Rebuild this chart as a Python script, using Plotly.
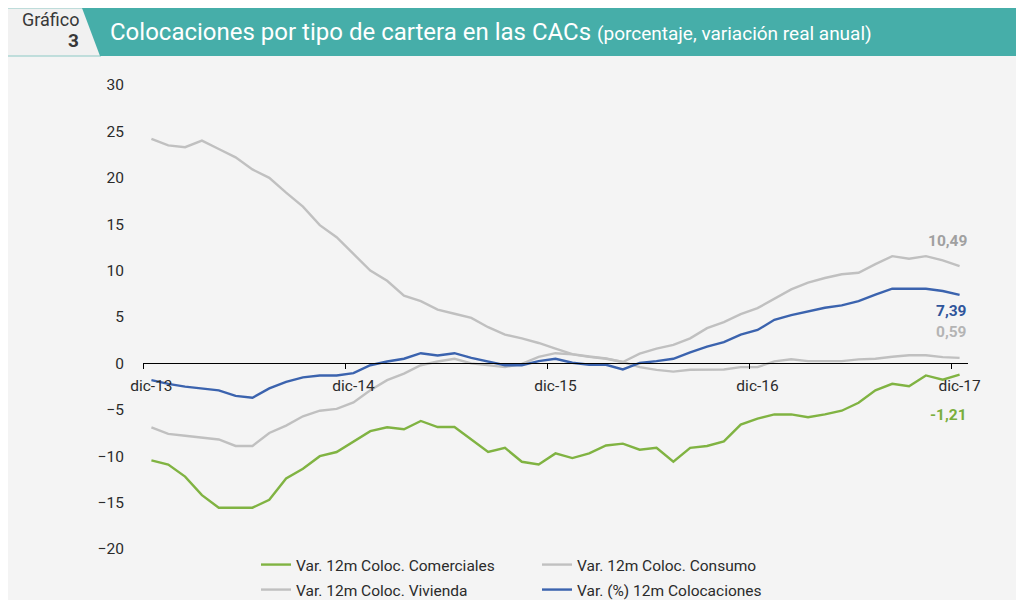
import plotly.graph_objects as go

# ---------------- data ----------------
meses_abrev = ["ene", "feb", "mar", "abr", "may", "jun", "jul", "ago", "sep", "oct", "nov", "dic"]
meses = ["dic-13"] + [f"{m}-{y}" for y in ["14", "15", "16", "17"] for m in meses_abrev]

comerciales = [-10.45, -10.9, -12.2, -14.2, -15.55, -15.55, -15.55, -14.7, -12.4, -11.35,
               -10.0, -9.55, -8.45, -7.3, -6.88, -7.1, -6.2, -6.86, -6.86, -8.2,
               -9.55, -9.1, -10.6, -10.9, -9.7, -10.2, -9.7, -8.85, -8.65, -9.3,
               -9.1, -10.6, -9.1, -8.9, -8.4, -6.6, -5.96, -5.5, -5.5, -5.8,
               -5.5, -5.1, -4.24, -2.9, -2.2, -2.45, -1.3, -1.75, -1.21]

consumo = [24.2, 23.5, 23.3, 24.0, 23.1, 22.2, 20.9, 20.0, 18.4, 16.9,
           14.9, 13.6, 11.8, 10.0, 8.9, 7.3, 6.7, 5.8, 5.35, 4.9,
           3.9, 3.1, 2.7, 2.2, 1.6, 1.0, 0.75, 0.54, 0.15, 1.05,
           1.6, 2.0, 2.7, 3.8, 4.45, 5.3, 5.96, 6.97, 7.97, 8.7,
           9.2, 9.6, 9.77, 10.7, 11.56, 11.28, 11.56, 11.1, 10.49]

vivienda = [-6.9, -7.6, -7.8, -8.0, -8.2, -8.9, -8.9, -7.5, -6.7, -5.7,
            -5.1, -4.9, -4.2, -2.9, -1.8, -1.1, -0.2, 0.2, 0.5, 0.0,
            -0.2, -0.4, -0.05, 0.7, 1.1, 0.97, 0.7, 0.5, 0.15, -0.4,
            -0.7, -0.88, -0.68, -0.68, -0.65, -0.4, -0.4, 0.22, 0.45, 0.25,
            0.25, 0.25, 0.43, 0.5, 0.72, 0.88, 0.88, 0.68, 0.59]

colocaciones = [-1.8, -2.2, -2.5, -2.7, -2.9, -3.5, -3.7, -2.7, -2.0, -1.5,
                -1.3, -1.3, -1.05, -0.2, 0.2, 0.5, 1.1, 0.86, 1.1, 0.6,
                0.2, -0.2, -0.2, 0.25, 0.5, 0.07, -0.15, -0.15, -0.65, 0.05,
                0.25, 0.5, 1.2, 1.8, 2.3, 3.1, 3.6, 4.7, 5.2, 5.6,
                6.0, 6.25, 6.7, 7.4, 8.05, 8.05, 8.05, 7.8, 7.39]

y_ticks = [30, 25, 20, 15, 10, 5, 0, -5, -10, -15, -20]

# ---------------- style ----------------
VERDE = "#80B342"
GRIS = "#C0C0C0"
AZUL = "#3B63AE"
TEAL = "#46AEA9"
FONT = "Roboto"
TXT = "#2B2B2B"

OFF = 8  # page body margin
W, H = 1024 - OFF, 600 - OFF
L = 143 - OFF
R = W - (968 - OFF)
T = 85 - OFF
B = H - (549 - OFF)
PW, PH = W - L - R, H - T - B


def px(xp):
    """page pixel x -> paper fraction"""
    return (xp - OFF - L) / PW


def py(yp):
    """page pixel y -> paper fraction"""
    return (H - B - (yp - OFF)) / PH


x = list(range(len(meses)))
fig = go.Figure()

series = [
    ("Var. 12m Coloc. Comerciales", comerciales, VERDE, "legend"),
    ("Var. 12m Coloc. Consumo", consumo, GRIS, "legend"),
    ("Var. 12m Coloc. Vivienda", vivienda, GRIS, "legend2"),
    ("Var. (%) 12m Colocaciones", colocaciones, AZUL, "legend2"),
]
for name, vals, col, lg in series:
    fig.add_trace(go.Scatter(x=x, y=vals, name=name, mode="lines",
                             line=dict(color=col, width=2.4), legend=lg,
                             customdata=meses,
                             hovertemplate="%{customdata}: %{y:.2f}<extra>" + name + "</extra>"))

# end-of-line value labels
last = len(meses) - 1
etiquetas = [
    (consumo[-1], "#A0A0A0", 25),
    (colocaciones[-1], "#2F559B", -16),
    (vivienda[-1], "#B4B4B4", 26),
    (comerciales[-1], "#7AAE3C", -40),
]
for val, col, ys in etiquetas:
    fig.add_annotation(x=last, y=val, xref="x", yref="y",
                       text=f"<b>{val:.2f}</b>".replace(".", ","),
                       showarrow=False, xanchor="right", yanchor="middle", xshift=9, yshift=ys,
                       font=dict(family=FONT, size=15.5, color=col))

dic_idx = [i for i, m in enumerate(meses) if m.startswith("dic")]

leg_common = dict(orientation="h", xanchor="left", yanchor="middle",
                  bgcolor="rgba(0,0,0,0)", font=dict(size=15.5, color=TXT),
                  entrywidth=236, entrywidthmode="pixels")

fig.update_layout(
    width=W, height=H, autosize=False,
    margin=dict(l=L, r=R, t=T, b=B, autoexpand=False),
    paper_bgcolor="#F4F4F4", plot_bgcolor="#F4F4F4",
    font=dict(family=FONT, size=14, color=TXT),
    showlegend=True,
    xaxis=dict(range=[-0.5, last + 0.5], anchor="free", position=20 / 50,
               tickmode="array", tickvals=dic_idx, ticktext=[meses[i] for i in dic_idx],
               ticks="", showgrid=False, zeroline=False, showline=True, linecolor="#000000",
               linewidth=1, tickfont=dict(size=15.5, color=TXT), ticklabelstandoff=8,
               minor=dict(tickvals=[i - 0.5 for i in dic_idx], ticks="outside", ticklen=5,
                          tickcolor="#000000", tickwidth=1, showgrid=False)),
    yaxis=dict(range=[-20, 30], tickmode="array", tickvals=y_ticks, showgrid=False,
               zeroline=False, showline=False, ticks="", tickfont=dict(size=15.5, color=TXT),
               ticklabelstandoff=18),
    legend=dict(x=px(256), y=py(565), **leg_common),
    legend2=dict(x=px(256), y=py(590), **leg_common),
)

# header banner
fig.add_shape(type="rect", xref="paper", yref="paper", x0=px(7), x1=px(101), y0=py(56), y1=py(8),
              fillcolor="#F1F1F1", line=dict(color="#8CC8C4", width=1), layer="below")
fig.add_shape(type="path", xref="paper", yref="paper",
              path=f"M {px(82)},{py(8)} L {px(1030)},{py(8)} L {px(1030)},{py(56)} L {px(100)},{py(56)} Z",
              fillcolor=TEAL, line=dict(width=0), layer="below")

fig.add_annotation(xref="paper", yref="paper", x=px(81), y=py(19), xanchor="right", yanchor="middle",
                   text="Gráfico", showarrow=False, font=dict(family=FONT, size=18, color="#383838"))
fig.add_annotation(xref="paper", yref="paper", x=px(81), y=py(41), xanchor="right", yanchor="middle",
                   text="<b>3</b>", showarrow=False, font=dict(family=FONT, size=19, color="#383838"))
fig.add_annotation(xref="paper", yref="paper", x=px(108), y=py(32), xanchor="left", yanchor="middle",
                   text="Colocaciones por tipo de cartera en las CACs "
                        "<span style='font-size:19px'>(porcentaje, variación real anual)</span>",
                   showarrow=False, font=dict(family=FONT, size=24, color="#FFFFFF"))

fig.write_html("out.html")
